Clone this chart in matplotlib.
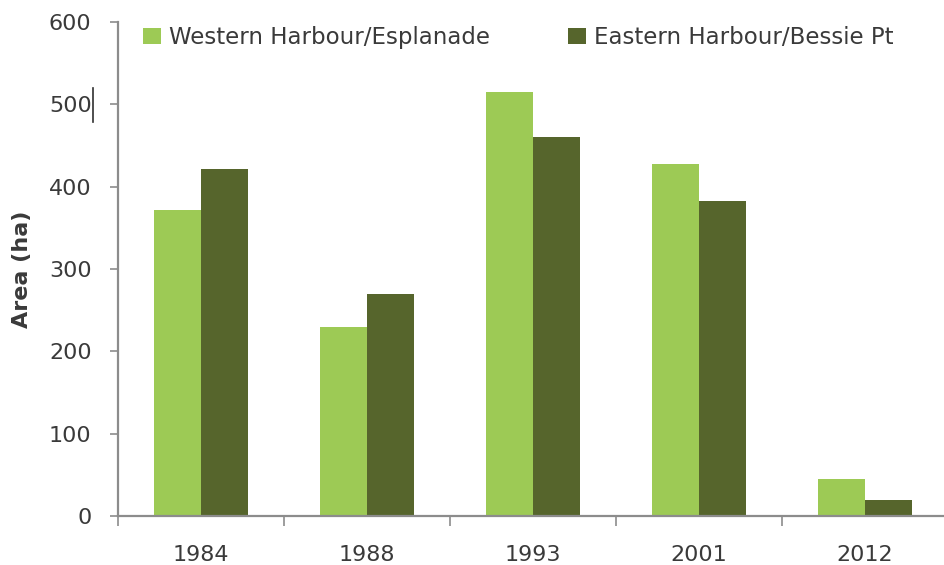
import matplotlib
matplotlib.use("Agg")
import matplotlib.pyplot as plt
import numpy as np
from matplotlib.lines import Line2D

plt.rcParams['font.family'] = ['DejaVu Sans']

years = ["1984", "1988", "1993", "2001", "2012"]
western = [372, 230, 515, 427, 45]
eastern = [422, 270, 460, 382, 20]
series_names = ["Western Harbour/Esplanade", "Eastern Harbour/Bessie Pt"]

light_green = "#9dca55"
dark_green = "#56652c"
axis_grey = "#8c8c8c"
text_col = "#3a3a3a"

fig = plt.figure(figsize=(9.44, 5.65), dpi=100)
ax = fig.add_axes([118 / 944, 1 - 516 / 565, (948 - 118) / 944, (516 - 22) / 565])

x = np.arange(len(years))
w = 0.285
ax.bar(x - w / 2, western, width=w, color=light_green, label=series_names[0])
ax.bar(x + w / 2, eastern, width=w, color=dark_green, label=series_names[1])

ax.set_xlim(-0.5, len(years) - 0.5)
ax.set_ylim(0, 600)
ax.set_yticks(range(0, 601, 100))
ax.set_xticks(x)
ax.set_xticklabels(years)
ax.set_xticks(np.arange(-0.5, len(years)), minor=True)

for side in ("top", "right"):
    ax.spines[side].set_visible(False)
for side in ("left", "bottom"):
    ax.spines[side].set_color(axis_grey)
    ax.spines[side].set_linewidth(1.6)

ax.tick_params(axis="y", direction="out", length=6, width=1.2, color=axis_grey,
               labelsize=16, labelcolor=text_col, pad=13)
ax.tick_params(axis="x", which="major", length=0, labelsize=16,
               labelcolor=text_col, pad=21)
ax.tick_params(axis="x", which="minor", direction="out", length=7, width=1.2,
               color=axis_grey)

ax.set_ylabel("Area (ha)", fontsize=16, fontweight="bold", color=text_col,
              labelpad=12)

leg = ax.legend(loc="upper left", bbox_to_anchor=(0.005, 1.034), ncol=2,
                frameon=False, fontsize=16.5, handlelength=0.79, handleheight=0.7,
                handletextpad=0.35, columnspacing=3.4, labelcolor=text_col)

# small vertical stroke beside the 500 label
fig.add_artist(Line2D([93 / 944, 93 / 944], [1 - 88 / 565, 1 - 122 / 565],
                      color="#303030", linewidth=1.2))

fig.savefig("out.png", dpi=100)
